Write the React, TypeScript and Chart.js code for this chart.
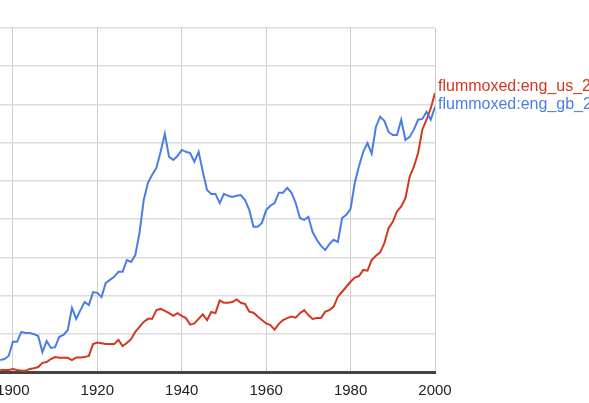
import React, { useEffect, useRef } from "react";
import { Chart, registerables } from "chart.js";

Chart.register(...registerables);

const years = [
  1897, 1898, 1899, 1900, 1901, 1902, 1903, 1904, 1905, 1906, 1907, 1908, 1909,
  1910, 1911, 1912, 1913, 1914, 1915, 1916, 1917, 1918, 1919, 1920, 1921, 1922,
  1923, 1924, 1925, 1926, 1927, 1928, 1929, 1930, 1931, 1932, 1933, 1934, 1935,
  1936, 1937, 1938, 1939, 1940, 1941, 1942, 1943, 1944, 1945, 1946, 1947, 1948,
  1949, 1950, 1951, 1952, 1953, 1954, 1955, 1956, 1957, 1958, 1959, 1960, 1961,
  1962, 1963, 1964, 1965, 1966, 1967, 1968, 1969, 1970, 1971, 1972, 1973, 1974,
  1975, 1976, 1977, 1978, 1979, 1980, 1981, 1982, 1983, 1984, 1985, 1986, 1987,
  1988, 1989, 1990, 1991, 1992, 1993, 1994, 1995, 1996, 1997, 1998, 1999, 2000,
];

// flummoxed:eng_us_2012 (relative units, one gridline = 1)
const usValues = [
  0.05, 0.05, 0.05, 0.08, 0.05, 0.03, 0.03, 0.08, 0.10, 0.13, 0.24, 0.26, 0.34,
  0.39, 0.37, 0.37, 0.37, 0.31, 0.38, 0.38, 0.39, 0.42, 0.73, 0.77, 0.75, 0.73,
  0.73, 0.73, 0.84, 0.68, 0.76, 0.86, 1.05, 1.18, 1.31, 1.39, 1.39, 1.62, 1.65,
  1.60, 1.54, 1.47, 1.54, 1.47, 1.41, 1.24, 1.27, 1.39, 1.51, 1.36, 1.57, 1.54,
  1.87, 1.81, 1.81, 1.83, 1.90, 1.81, 1.78, 1.58, 1.55, 1.45, 1.36, 1.27, 1.23,
  1.11, 1.26, 1.36, 1.41, 1.45, 1.42, 1.54, 1.62, 1.49, 1.39, 1.41, 1.41, 1.58,
  1.62, 1.71, 1.97, 2.10, 2.23, 2.36, 2.47, 2.51, 2.67, 2.65, 2.93, 3.04, 3.13,
  3.37, 3.76, 3.93, 4.20, 4.33, 4.55, 5.11, 5.37, 5.73, 6.34, 6.60, 6.90, 7.30,
];

// flummoxed:eng_gb_2012
const gbValues = [
  0.31, 0.34, 0.42, 0.79, 0.79, 1.05, 1.02, 1.02, 0.99, 0.94, 0.52, 0.81, 0.63,
  0.65, 0.92, 0.97, 1.10, 1.68, 1.39, 1.62, 1.83, 1.75, 2.09, 2.07, 1.96, 2.33,
  2.41, 2.49, 2.62, 2.62, 2.93, 2.88, 3.06, 3.64, 4.50, 4.95, 5.16, 5.34, 5.76,
  6.23, 5.63, 5.55, 5.65, 5.81, 5.76, 5.73, 5.50, 5.76, 5.24, 4.76, 4.66, 4.66,
  4.42, 4.66, 4.61, 4.58, 4.61, 4.63, 4.50, 4.24, 3.80, 3.80, 3.90, 4.24, 4.35,
  4.42, 4.69, 4.69, 4.82, 4.69, 4.42, 4.03, 3.98, 4.06, 3.66, 3.46, 3.30, 3.19,
  3.35, 3.46, 3.40, 4.03, 4.11, 4.27, 4.95, 5.39, 5.76, 5.99, 5.71, 6.41, 6.68,
  6.57, 6.28, 6.20, 6.20, 6.60, 6.07, 6.15, 6.34, 6.60, 6.62, 6.81, 6.60, 6.94,
];

const seriesLabels = ["flummoxed:eng_us_2012", "flummoxed:eng_gb_2012"];
const seriesColors = ["#d3381f", "#4a7de6"];
const tickYears = [1900, 1920, 1940, 1960, 1980, 2000];

const FONT = "'Liberation Sans', Arial, sans-serif";

const endLabels = {
  id: "endLabels",
  afterDraw(chart: any) {
    const ctx = chart.ctx;
    const area = chart.chartArea;
    const y = chart.scales.y;
    const redY = y.getPixelForValue(usValues[usValues.length - 1]) - 6;
    const blueY = redY + 17.5;
    ctx.save();
    ctx.font = `16px ${FONT}`;
    ctx.textBaseline = "middle";
    ctx.textAlign = "left";
    ctx.fillStyle = seriesColors[0];
    ctx.fillText(seriesLabels[0], area.right + 3, redY);
    ctx.fillStyle = seriesColors[1];
    ctx.fillText(seriesLabels[1], area.right + 3, blueY);
    ctx.restore();
  },
};

export default function App() {
  const ref = useRef<HTMLCanvasElement | null>(null);

  useEffect(() => {
    if (!ref.current) return;
    const chart = new Chart(ref.current, {
      type: "line",
      data: {
        datasets: [
          {
            label: seriesLabels[1],
            data: years.map((yr, i) => ({ x: yr, y: gbValues[i] })),
            borderColor: seriesColors[1],
            borderWidth: 2,
            pointRadius: 0,
            tension: 0,
            fill: false,
          },
          {
            label: seriesLabels[0],
            data: years.map((yr, i) => ({ x: yr, y: usValues[i] })),
            borderColor: seriesColors[0],
            borderWidth: 2,
            pointRadius: 0,
            tension: 0,
            fill: false,
          },
        ],
      },
      options: {
        animation: false,
        responsive: false,
        devicePixelRatio: 1,
        layout: { padding: { left: 0, right: 154, top: 28, bottom: 0 } },
        plugins: {
          legend: { display: false },
          tooltip: { enabled: false },
        },
        scales: {
          x: {
            type: "linear",
            min: 1896.95,
            max: 2000,
            afterBuildTicks: (s: any) => {
              s.ticks = tickYears.map((v) => ({ value: v }));
            },
            afterFit: (s: any) => {
              s.height = 31;
              s.paddingLeft = 0;
              s.paddingRight = 0;
            },
            ticks: {
              callback: (v: any) => String(v),
              font: { family: FONT, size: 15 },
              color: "#222222",
              padding: 10,
              maxRotation: 0,
              autoSkip: false,
            },
            grid: { color: "#cccccc", lineWidth: 1, drawTicks: false },
            border: { color: "#444444", width: 3 },
          },
          y: {
            min: 0,
            max: 9,
            ticks: { display: false, stepSize: 1 },
            afterFit: (s: any) => {
              s.width = 0;
              s.paddingTop = 0;
              s.paddingBottom = 0;
            },
            grid: { color: "#dcdcdc", lineWidth: 1.5, drawTicks: false },
            border: { display: false },
          },
        },
      },
      plugins: [endLabels],
    });
    return () => chart.destroy();
  }, []);

  return (
    <div style={{ position: "absolute", left: 0, top: 0, width: 589, height: 403, background: "#fff" }}>
      <canvas ref={ref} width={589} height={403} style={{ display: "block" }} />
    </div>
  );
}
